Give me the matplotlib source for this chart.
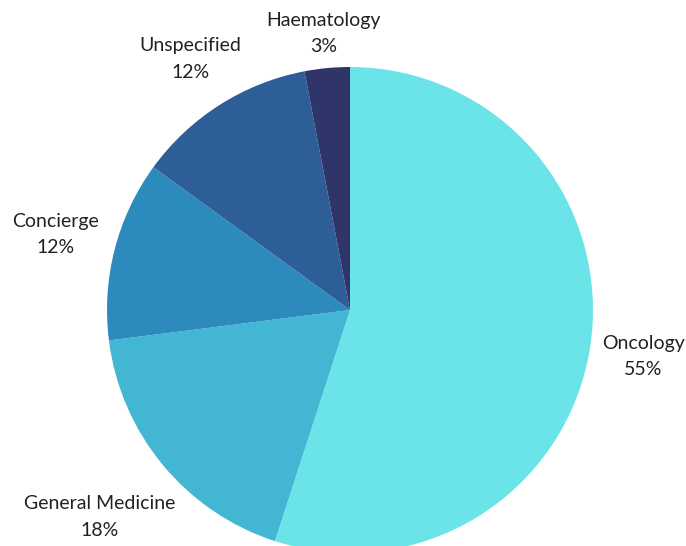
import numpy as np
import matplotlib
matplotlib.use("Agg")
import matplotlib.pyplot as plt

categories = ["Oncology", "General Medicine", "Concierge", "Unspecified", "Haematology"]
values = [55, 18, 12, 12, 3]
colors = ["#6AE4E8", "#43B6D4", "#2C8BBC", "#2E5E97", "#2F3569"]
label_dist = [1.222, 1.336, 1.253, 1.223, 1.143]

plt.rcParams['font.family'] = ['Lato', 'DejaVu Sans']

W, H = 686, 546
fig = plt.figure(figsize=(W / 100, H / 100), dpi=100)
ax = fig.add_axes([0, 0, 1, 1])
cx, cy, r = 350, H - 310, 243

wedges, _ = ax.pie(values, colors=colors, startangle=90, counterclock=False,
                   center=(cx, cy), radius=r, frame=True,
                   wedgeprops=dict(linewidth=0))
ax.set_xlim(0, W)
ax.set_ylim(0, H)
ax.set_aspect('equal')
ax.axis('off')

total = sum(values)
for w, name, v, d in zip(wedges, categories, values, label_dist):
    mid = np.deg2rad((w.theta1 + w.theta2) / 2)
    x = cx + d * r * np.cos(mid)
    y = cy + d * r * np.sin(mid)
    ax.text(x, y, f"{name}\n{round(100 * v / total)}%", ha='center', va='center',
            fontsize=14, color='#222222', linespacing=1.68)

fig.savefig("out.png", dpi=100)
